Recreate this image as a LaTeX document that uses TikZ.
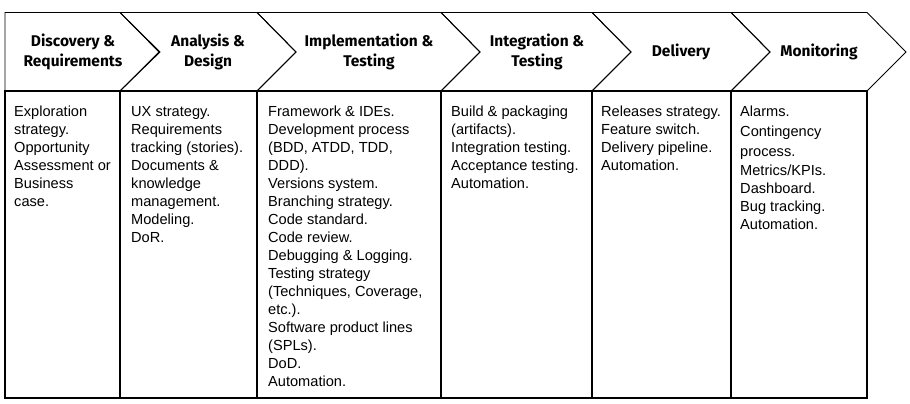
\documentclass[tikz,border=0pt]{standalone}
\usepackage{fontspec}
\setmainfont{Liberation Sans}
\newfontfamily\hdrfont{Fira Sans}
\begin{document}
\begin{tikzpicture}[x=1pt,y=-1pt,
  chev/.style={draw=black,line width=0.9pt,line join=miter},
  grid/.style={draw=black,line width=1.1pt},
  phase/.style={font=\hdrfont\bfseries\fontsize{15.5}{20}\selectfont,align=center,inner sep=0pt},
  cell/.style={anchor=base west,inner sep=0pt,font=\fontsize{14.6}{18}\selectfont}]
\useasboundingbox (0,0) rectangle (910,404);
\fill[white] (0,0) rectangle (910,404);

% phase arrows (top 12.5, middle 52, bottom 91)
\draw[chev] (5,12.5) -- (120,12.5) -- (160,52) -- (120,91) -- (5,91) -- cycle;
\foreach \l/\r in {120/257, 257/441, 441/592, 592/731, 731/867}
  \draw[chev] (\l,12.5) -- (\r,12.5) -- (\r+39,52) -- (\r,91) -- (\l,91) -- (\l+39,52) -- cycle;

% phase titles
\node[phase] (h1) at (73,52)  {Discovery \&\\Requirements};
\node[phase] (h2) at (208,52) {Analysis \&\\Design};
\node[phase] (h3) at (369,52) {Implementation \&\\Testing};
\node[phase] (h4) at (537,52) {Integration \&\\Testing};
\node[phase] (h5) at (681,52) {Delivery};
\node[phase] (h6) at (819,52) {Monitoring};

% table frame and column rules
\draw[grid] (5,91) rectangle (867,398);
\foreach \x in {120,257,441,592,731}
  \draw[grid] (\x,91) -- (\x,398);

% column contents
\node[cell] (c1) at (14,116.5) {\parbox[t]{104pt}{\raggedright
  Exploration\\strategy.\\Opportunity\\Assessment or\\Business\\case.}};
\node[cell] (c2) at (131,116.5) {\parbox[t]{124pt}{\raggedright
  UX strategy.\\Requirements\\tracking (stories).\\Documents \&\\knowledge\\management.\\Modeling.\\DoR.}};
\node[cell] (c3) at (268,116.5) {\parbox[t]{170pt}{\raggedright
  Framework \& IDEs.\\Development process\\(BDD, ATDD, TDD,\\DDD).\\Versions system.\\Branching strategy.\\Code standard.\\Code review.\\Debugging \& Logging.\\Testing strategy\\(Techniques, Coverage,\\etc.).\\Software product lines\\(SPLs).\\DoD.\\Automation.}};
\node[cell] (c4) at (451,116.5) {\parbox[t]{140pt}{\raggedright
  Build \& packaging\\(artifacts).\\Integration testing.\\Acceptance testing.\\Automation.}};
\node[cell] (c5) at (601,116.5) {\parbox[t]{128pt}{\raggedright
  Releases strategy.\\Feature switch.\\Delivery pipeline.\\Automation.}};
\node[cell] (c6) at (740,116.5) {\parbox[t]{124pt}{\raggedright
  Alarms.\\[2pt]Contingency\\[2pt]process.\\[1pt]Metrics/KPIs.\\Dashboard.\\Bug tracking.\\Automation.}};
\end{tikzpicture}
\end{document}
